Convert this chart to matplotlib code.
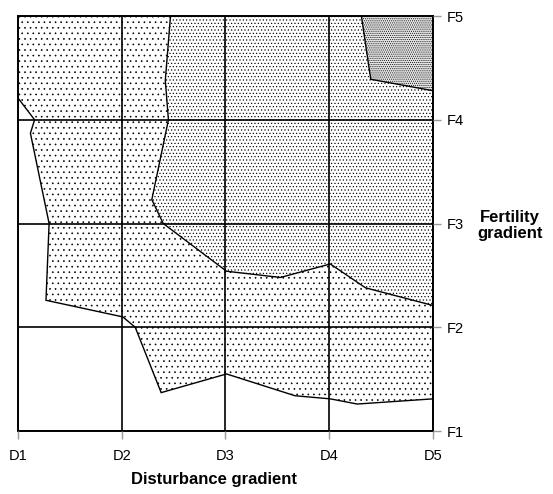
import numpy as np
import matplotlib
matplotlib.use("Agg")
from matplotlib import pyplot as plt

plt.rcParams['font.family'] = ['Liberation Sans', 'DejaVu Sans']
plt.rcParams['hatch.linewidth'] = 0.45
plt.rcParams['hatch.color'] = 'black'

# gradient positions / labels
d_pos = [1, 2, 3, 4, 5]
d_labels = ['D1', 'D2', 'D3', 'D4', 'D5']
f_pos = [1, 2, 3, 4, 5]
f_labels = ['F1', 'F2', 'F3', 'F4', 'F5']

# lower boundary (outer edge of the shaded zone)
low_x = [1.00, 1.16, 1.12, 1.30, 1.27, 2.01, 2.13, 2.38, 3.01, 3.67, 4.01, 4.27, 5.00]
low_y = [4.21, 4.00, 3.87, 3.00, 2.26, 2.10, 2.00, 1.37, 1.55, 1.34, 1.31, 1.26, 1.31]

# middle boundary
mid_x = [2.47, 2.42, 2.45, 2.29, 2.40, 3.01, 3.53, 4.01, 4.35, 5.00]
mid_y = [5.00, 4.38, 4.00, 3.23, 3.00, 2.54, 2.48, 2.61, 2.38, 2.21]

# top-right corner boundary
top_x = [4.31, 4.40, 5.00]
top_y = [5.00, 4.39, 4.28]

fig = plt.figure(figsize=(5.53, 4.94), dpi=100)
ax = fig.add_axes([0.0325, 0.1275, 0.7505, 0.8401])

# zones, closed over the top-right corner
ax.fill(low_x + [5, 1], low_y + [5, 5], facecolor='white', edgecolor='black',
        hatch='...', lw=1.0)
ax.fill(mid_x + [5], mid_y + [5], facecolor='white', edgecolor='black',
        hatch='.....', lw=1.0)
ax.fill(top_x + [5], top_y + [5], facecolor='#e4e4e4', edgecolor='black',
        hatch='........', lw=1.0)

ax.set_xlim(1, 5)
ax.set_ylim(1, 5)
ax.set_xticks(d_pos)
ax.set_xticklabels(d_labels)
ax.set_yticks(f_pos)
ax.set_yticklabels(f_labels)
ax.yaxis.tick_right()
ax.tick_params(axis='both', length=6, width=1, color='#999999',
               labelsize=10.5, pad=4)
ax.tick_params(axis='x', pad=7)

ax.grid(True, color='black', lw=1.2)
ax.set_axisbelow(False)
for s in ax.spines.values():
    s.set_linewidth(1.4)

fig.text(0.387, 0.030, 'Disturbance gradient', fontsize=12, fontweight='bold',
         ha='center', va='center')
fig.text(0.922, 0.543, 'Fertility\ngradient', fontsize=12, fontweight='bold',
         ha='center', va='center', linespacing=1.1)

fig.savefig('out.png', dpi=100)
